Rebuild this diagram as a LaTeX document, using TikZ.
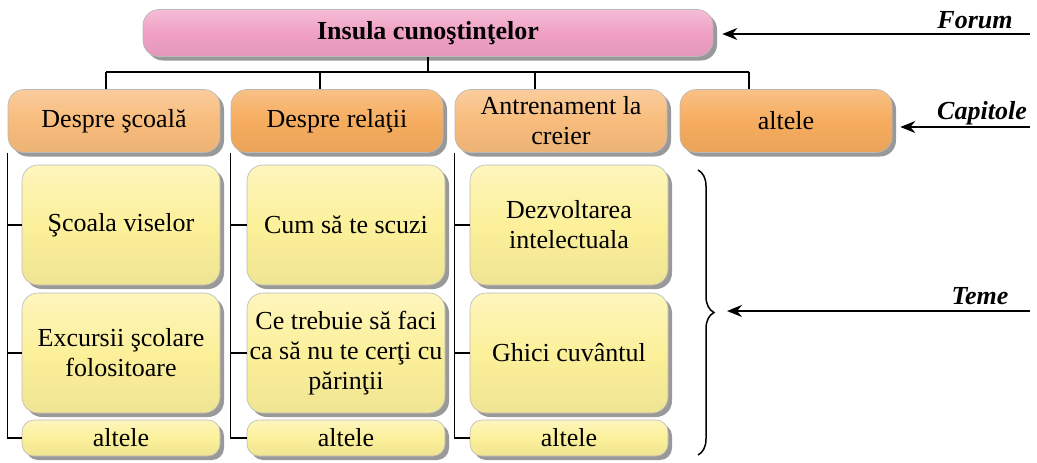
\documentclass[tikz,border=0pt]{standalone}
\usepackage{fontspec}
\setmainfont{Liberation Serif}
\usetikzlibrary{shadows, arrows.meta, decorations.pathreplacing}
\definecolor{forumpink}{HTML}{F0A0C4}
\definecolor{caplight}{HTML}{F8BC7C}
\definecolor{capdark}{HTML}{F6AC5E}
\definecolor{temayellow}{HTML}{FCF09A}

\begin{document}
\begin{tikzpicture}[x=1pt, y=-1pt,
		box/.style={rounded corners=16pt, draw=gray!55, line width=0.6pt, align=center, inner sep=2pt,
			font=\fontsize{26}{30}\selectfont,
			drop shadow={shadow xshift=4pt, shadow yshift=-4pt, opacity=0.4, fill=black}},
		forum/.style={box, minimum width=570pt, minimum height=47pt,
			top color=forumpink!70!white, bottom color=forumpink!95!black, middle color=forumpink},
		capa/.style={box, minimum width=212pt, minimum height=63pt,
			top color=caplight!75!white, bottom color=caplight!95!black, middle color=caplight},
		capb/.style={box, minimum width=212pt, minimum height=63pt,
			top color=capdark!75!white, bottom color=capdark!95!black, middle color=capdark},
		tema/.style={box, minimum width=198pt, minimum height=120pt,
			top color=temayellow!65!white, bottom color=temayellow!95!black, middle color=temayellow},
		alt/.style={tema, minimum height=36pt, rounded corners=12pt, inner sep=0pt},
		side/.style={font=\fontsize{26}{30}\selectfont\bfseries\itshape},
		conn/.style={line width=1.1pt},
		arr/.style={line width=1.6pt, -{Stealth[length=15pt, width=12pt]}}
		]
		\useasboundingbox (0,0) rectangle (1037,463);
		
		% forum
		\node[forum] (ins) at (428,33) {\bfseries Insula cunoştinţelor};
		
		% capitole
		\node[capa] (cap1) at (114,121) {Despre şcoală};
		\node[capb] (cap2) at (337,121) {Despre relaţii};
		\node[capa] (cap3) at (561,121) {Antrenament la\\creier};
		\node[capb] (cap4) at (786,121) {altele};
		
		\coordinate (b1) at (106,72);
		\coordinate (b2) at (320,72);
		\coordinate (b3) at (535,72);
		\coordinate (b4) at (749,72);
		\draw[conn] (b1) -- (b4);
		\draw[conn] (ins.south) -- (ins.south |- b1);
		\draw[conn] (b1) -- (b1 |- cap1.north);
		\draw[conn] (b2) -- (b2 |- cap2.north);
		\draw[conn] (b3) -- (b3 |- cap3.north);
		\draw[conn] (b4) -- (b4 |- cap4.north);
		
		% teme
		\node[tema] (t11) at (121,225) {Şcoala viselor};
		\node[tema] (t12) at (121,353) {Excursii şcolare\\folositoare};
		\node[alt]  (t13) at (121,438) {altele};
		\node[tema] (t21) at (346,225) {Cum să te scuzi};
		\node[tema] (t22) at (346,353) {Ce trebuie să faci\\ca să nu te cerţi cu\\părinţii};
		\node[alt]  (t23) at (346,438) {altele};
		\node[tema] (t31) at (569,225) {Dezvoltarea\\intelectuala};
		\node[tema] (t32) at (569,353) {Ghici cuvântul};
		\node[alt]  (t33) at (569,438) {altele};
		
		\draw[conn] (cap1.south west) |- (t13.west);
		\draw[conn] (cap1.south west |- t11.west) -- (t11.west);
		\draw[conn] (cap1.south west |- t12.west) -- (t12.west);
		\draw[conn] (cap2.south west) |- (t23.west);
		\draw[conn] (cap2.south west |- t21.west) -- (t21.west);
		\draw[conn] (cap2.south west |- t22.west) -- (t22.west);
		\draw[conn] (cap3.south west) |- (t33.west);
		\draw[conn] (cap3.south west |- t31.west) -- (t31.west);
		\draw[conn] (cap3.south west |- t32.west) -- (t32.west);
		
		% etichete
		\node[side] (lforum) at (975,20) {Forum};
		\node[side] (lcap) at (982,113) {Capitole};
		\node[side] (lteme) at (980,296) {Teme};
		
		\coordinate (eforum) at (1030,34);
		\coordinate (ecap) at (1030,127);
		\coordinate (eteme) at (1030,311);
		\coordinate (brtop) at (698,170);
		\coordinate (brbot) at (698,455);
		\draw[line width=1.5pt, decorate, decoration={brace, amplitude=16pt}] (brtop) -- (brbot);
		\draw[arr] (eforum) -- ([xshift=9pt]ins.east |- eforum);
		\draw[arr] (ecap) -- ([xshift=8pt]cap4.east |- ecap);
		\draw[arr] (eteme) -- (727,311);
		
		\end{tikzpicture}
\end{document}
